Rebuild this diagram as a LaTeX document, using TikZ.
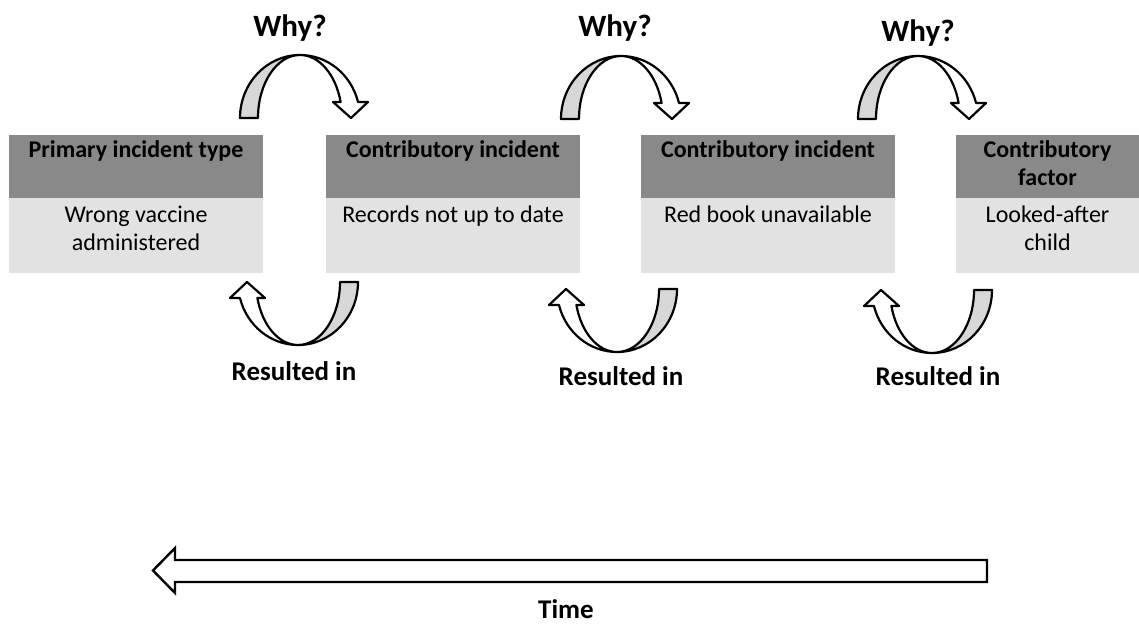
\documentclass[tikz,border=0pt]{standalone}
\usepackage{fontspec}
\setmainfont{Carlito}
\usetikzlibrary{positioning}

\definecolor{headgray}{RGB}{137,137,137}
\definecolor{bodygray}{RGB}{226,226,226}
\definecolor{arrowgray}{RGB}{215,215,215}

\tikzset{
  uturn/.pic={
    \filldraw[fill=arrowgray,line width=2.2pt,line join=round]
      (-60pt,0) arc[start angle=180,end angle=90,x radius=60pt,y radius=63pt]
      arc[start angle=90,end angle=180,x radius=42pt,y radius=63pt] -- cycle;
    \filldraw[fill=white,line width=2.2pt,line join=round]
      (0,63pt) arc[start angle=90,end angle=14.7,x radius=60pt,y radius=63pt]
      -- (68pt,16pt) -- (51pt,0) -- (33pt,16pt) -- (40.6pt,16pt)
      arc[start angle=14.7,end angle=90,x radius=42pt,y radius=63pt] -- cycle;
  }
}

\begin{document}
\begin{tikzpicture}[x=1pt,y=1pt,inner sep=0pt,outer sep=0pt,
  head/.style={fill=headgray,minimum width=254pt,minimum height=63pt},
  body/.style={fill=bodygray,minimum width=254pt,minimum height=75pt},
  htext/.style={font=\fontsize{24}{28}\selectfont\bfseries,align=center},
  btext/.style={font=\fontsize{24}{28}\selectfont,align=center},
  lab/.style={font=\fontsize{27}{30}\selectfont\bfseries,anchor=base},
  why/.style={font=\fontsize{31}{34}\selectfont\bfseries,anchor=base}]
\useasboundingbox (0,0) rectangle (1139,-628);

% boxes
\node[head] (h1) at (136,-166.5) {};
\node[body,below=0pt of h1] (b1) {};
\node[head] (h2) at (453,-166.5) {};
\node[body,below=0pt of h2] (b2) {};
\node[head] (h3) at (768,-166.5) {};
\node[body,below=0pt of h3] (b3) {};
\node[head,minimum width=183pt] (h4) at (1047.5,-166.5) {};
\node[body,minimum width=183pt,below=0pt of h4] (b4) {};

\node[htext,below=6pt of h1.north] (t1) {Primary incident type};
\node[htext,below=6pt of h2.north] (t2) {Contributory incident};
\node[htext,below=6pt of h3.north] (t3) {Contributory incident};
\node[htext,below=6pt of h4.north] (t4) {Contributory\\factor};
\node[btext,below=8pt of b1.north] (s1) {Wrong vaccine\\administered};
\node[btext,below=8pt of b2.north] (s2) {Records not up to date};
\node[btext,below=8pt of b3.north] (s3) {Red book unavailable};
\node[btext,below=8pt of b4.north] (s4) {Looked-after\\child};

% why? arrows
\pic at (300,-118) {uturn};
\pic at (621,-119) {uturn};
\pic at (918,-119) {uturn};
\node[why] (w1) at (290,-37) {Why?};
\node[why] (w2) at (615,-37) {Why?};
\node[why] (w3) at (918,-42) {Why?};

% resulted in arrows
\pic[rotate=180] at (298,-282) {uturn};
\pic[rotate=180] at (617,-289) {uturn};
\pic[rotate=180] at (932,-290) {uturn};
\node[lab] (r1) at (294,-380) {Resulted in};
\node[lab] (r2) at (621,-385) {Resulted in};
\node[lab] (r3) at (938,-385) {Resulted in};

% time
\draw[line width=2.4pt,fill=white] (987,-560) -- (175,-560) -- (175,-548) -- (153,-570.5)
  -- (175,-593) -- (175,-582) -- (987,-582) -- cycle;
\node[lab] (tm) at (566,-618) {Time};
\end{tikzpicture}
\end{document}
